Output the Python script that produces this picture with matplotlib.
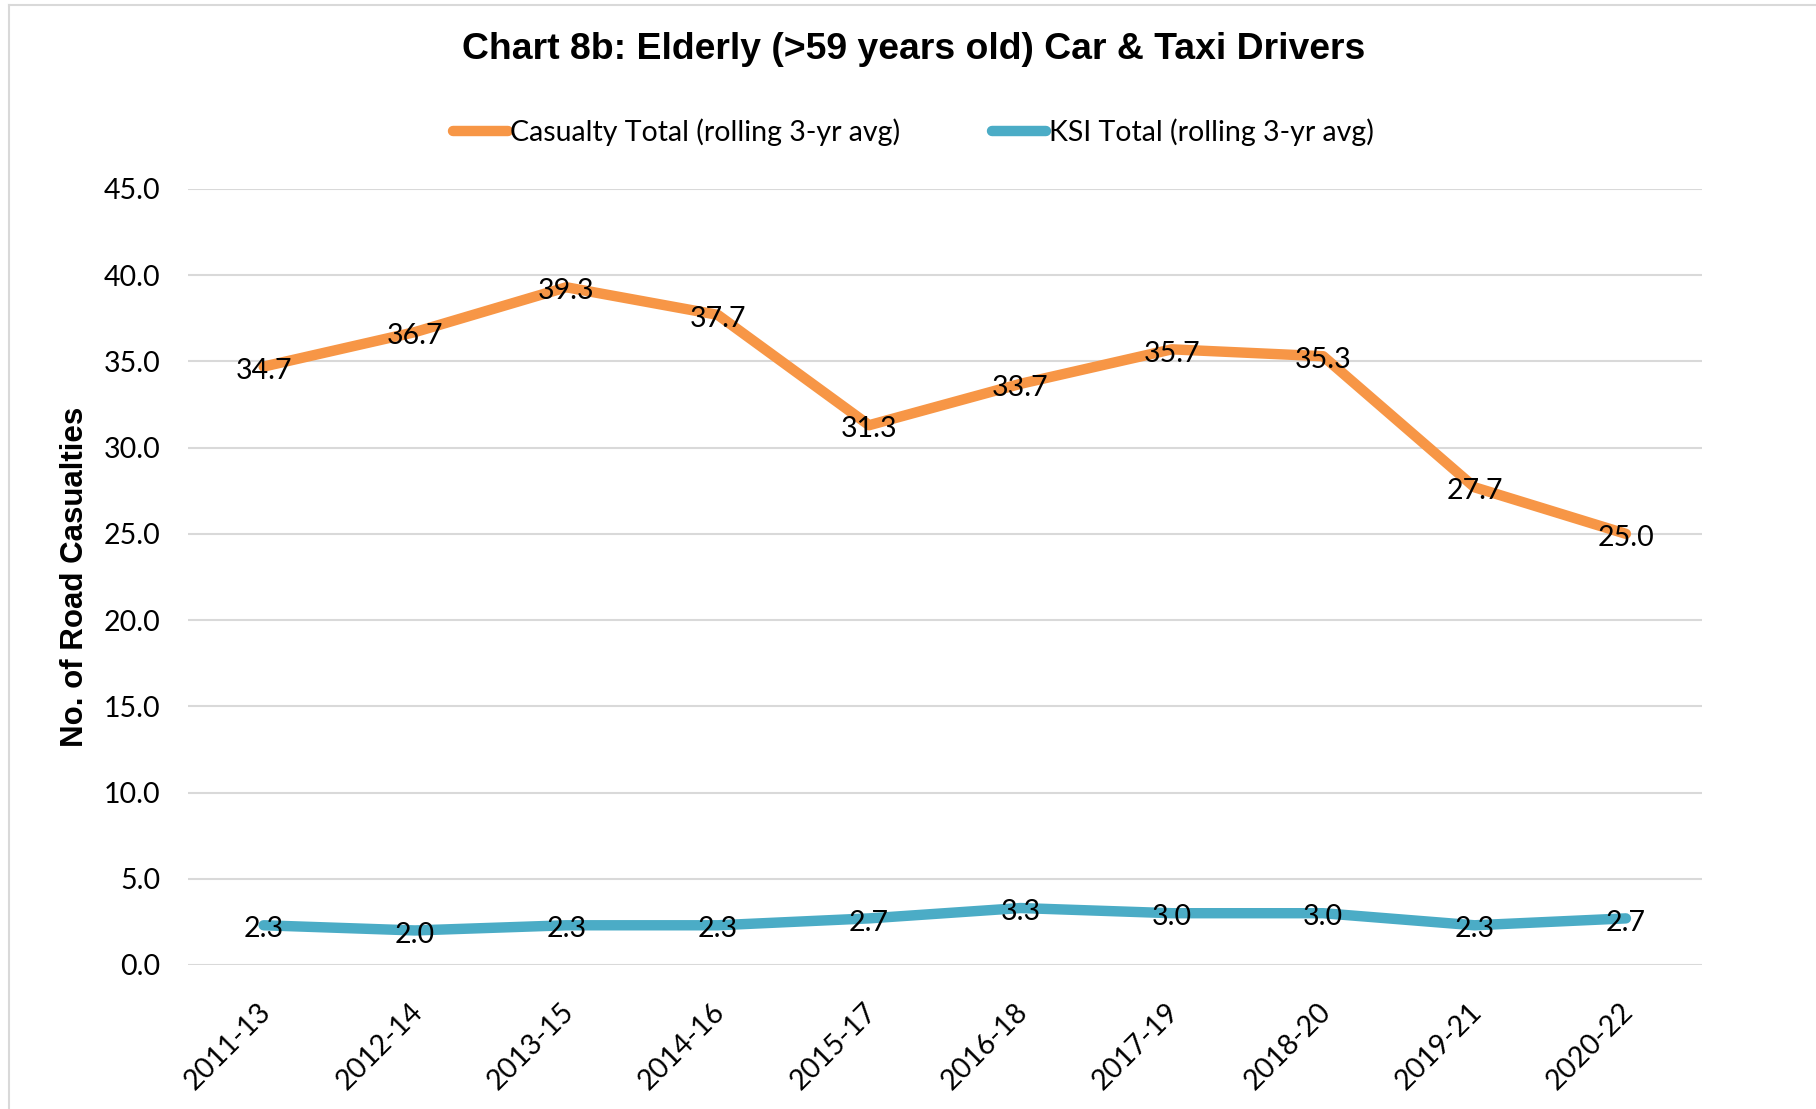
import matplotlib.pyplot as plt
from matplotlib.lines import Line2D
from matplotlib.transforms import ScaledTranslation

# data
periods = ['2011-13', '2012-14', '2013-15', '2014-16', '2015-17',
           '2016-18', '2017-19', '2018-20', '2019-21', '2020-22']
casualty_total = [34.7, 36.7, 39.3, 37.7, 31.3, 33.7, 35.7, 35.3, 27.7, 25.0]
ksi_total = [2.3, 2.0, 2.3, 2.3, 2.7, 3.3, 3.0, 3.0, 2.3, 2.7]
y_ticks = [0, 5, 10, 15, 20, 25, 30, 35, 40, 45]

orange = '#F79646'
blue = '#4BACC6'
grid_grey = '#D9D9D9'
body_font = 'Lato'
head_font = 'Liberation Sans'
body_size = 20.5

fig = plt.figure(figsize=(18.16, 11.09), dpi=100)
ax = fig.add_axes([0.1035, 0.1299, 0.8335, 0.6997])

x = list(range(len(periods)))
ax.plot(x, casualty_total, color=orange, linewidth=7.5, solid_capstyle='round',
        solid_joinstyle='round', label='Casualty Total (rolling 3-yr avg)', zorder=3)
ax.plot(x, ksi_total, color=blue, linewidth=7.5, solid_capstyle='round',
        solid_joinstyle='round', label='KSI Total (rolling 3-yr avg)', zorder=3)

# data labels sit right on the points (a touch below)
for series in (casualty_total, ksi_total):
    for xi, v in zip(x, series):
        ax.annotate(f'{v:.1f}', (xi, v), xytext=(0, -3), textcoords='offset points',
                    ha='center', va='center', fontsize=body_size,
                    family=body_font, color='black', zorder=4)

ax.set_xlim(-0.5, len(periods) - 0.5)
ax.set_ylim(0, 45)
ax.set_yticks(y_ticks)
ax.set_yticklabels([f'{t:.1f}' for t in y_ticks], family=body_font, fontsize=body_size)
ax.set_xticks(x)
ax.set_xticklabels(periods, family=body_font, fontsize=body_size, rotation=45,
                   ha='right', rotation_mode='anchor')
ax.tick_params(axis='y', length=0, pad=20)
ax.tick_params(axis='x', length=0, pad=24)
shift = ScaledTranslation(-6 / 100, 0, fig.dpi_scale_trans)
for lbl in ax.get_xticklabels():
    lbl.set_transform(lbl.get_transform() + shift)

ax.yaxis.grid(True, color=grid_grey, linewidth=1.5)
ax.set_axisbelow(True)
for s in ax.spines.values():
    s.set_visible(False)

ax.set_ylabel('No. of Road Casualties', family=head_font, fontsize=22.5,
              fontweight='bold', labelpad=10)

fig.text(0.503, 0.955, 'Chart 8b: Elderly (>59 years old) Car & Taxi Drivers',
         ha='center', va='center', family=head_font, fontsize=26.9, fontweight='bold')

leg = fig.legend(loc='center', bbox_to_anchor=(0.503, 0.881), ncol=2, frameon=False,
                 prop={'family': body_font, 'size': body_size}, handlelength=1.9,
                 handletextpad=0.1, columnspacing=3.2)

# thin grey frame on the left and top like the reference
fig.add_artist(Line2D([0.005, 0.005], [0, 0.9955], color=grid_grey, linewidth=1.5,
                      transform=fig.transFigure))
fig.add_artist(Line2D([0.005, 1], [0.9955, 0.9955], color=grid_grey, linewidth=1.5,
                      transform=fig.transFigure))

fig.savefig('out.png', dpi=100, facecolor='white')
